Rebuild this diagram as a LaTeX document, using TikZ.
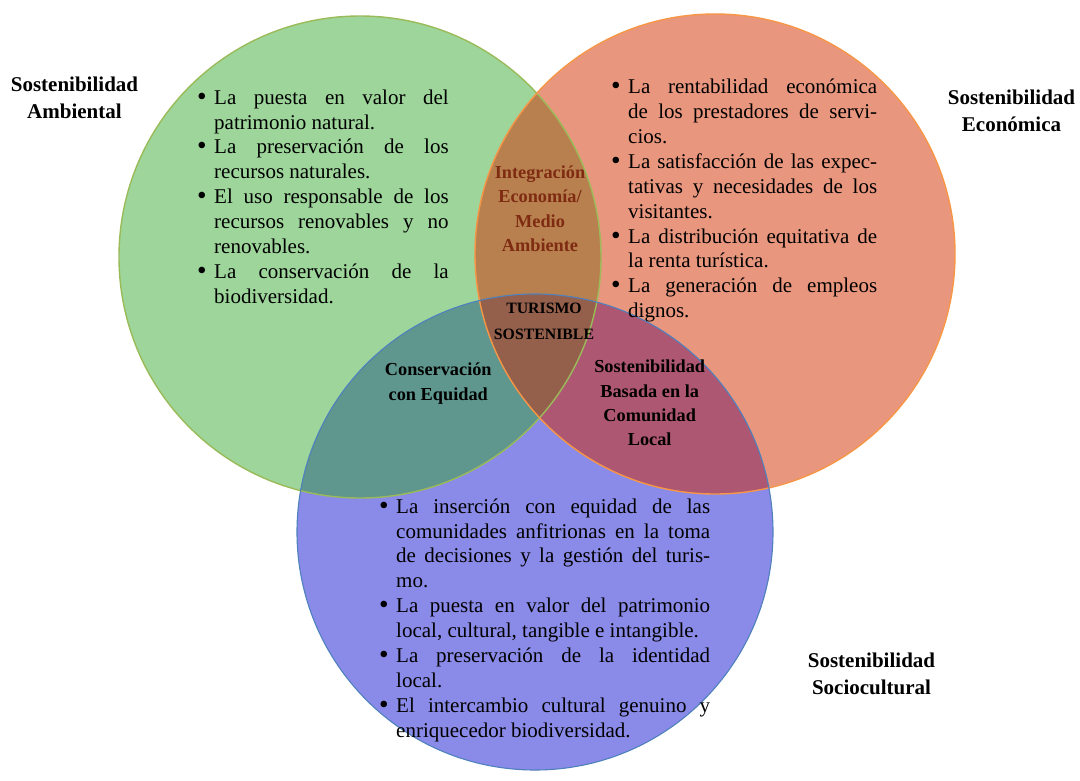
\documentclass[tikz,border=0pt]{standalone}
\usepackage{fontspec}
\setmainfont{Liberation Serif}
\definecolor{cG}{HTML}{9DD59B}
\definecolor{cO}{HTML}{E8967E}
\definecolor{cB}{HTML}{8A8AE8}
\definecolor{cGO}{HTML}{B8804F}
\definecolor{cGB}{HTML}{5F968E}
\definecolor{cOB}{HTML}{AE5772}
\definecolor{cGOB}{HTML}{945F4B}
\definecolor{lG}{HTML}{9BBB59}
\definecolor{lO}{HTML}{F79646}
\definecolor{lB}{HTML}{4F81BD}
\definecolor{darkred}{HTML}{7E2B12}
\newcommand\bitem[1]{\par\noindent\hangindent=17pt\hangafter=1\makebox[17pt][l]{\rule{0pt}{15pt}\raisebox{-1pt}{\scalebox{1.3}{\textbullet}}}#1\par}
\begin{document}
\begin{tikzpicture}[x=1pt,y=-1pt,
  title/.style={font=\bfseries\fontsize{21}{27}\selectfont, align=center, inner sep=0pt, anchor=north},
  lab/.style={font=\bfseries\fontsize{18.3}{24.3}\selectfont, align=center, inner sep=0pt, anchor=north},
  core/.style={font=\bfseries\fontsize{15.8}{25.6}\selectfont, align=center, inner sep=0pt, anchor=north},
  list/.style={font=\fontsize{21}{24.9}\selectfont, align=justify, inner sep=0pt, anchor=north west},
  ring/.style={line width=1.4pt}]
\useasboundingbox (0,0) rectangle (1080,780);
\fill[white] (0,0) rectangle (1080,780);
\coordinate (cg) at (360,257);
\coordinate (co) at (715,254);
\coordinate (cb) at (535,532);
% base fills
\fill[cG] (cg) circle[radius=241pt];
\fill[cO] (co) circle[radius=240pt];
\fill[cB] (cb) circle[radius=238pt];
% pairwise overlaps
\begin{scope}
  \clip (cg) circle[radius=241pt];
  \fill[cGO] (co) circle[radius=240pt];
  \fill[cGB] (cb) circle[radius=238pt];
\end{scope}
\begin{scope}
  \clip (co) circle[radius=240pt];
  \fill[cOB] (cb) circle[radius=238pt];
\end{scope}
\begin{scope}
  \clip (cg) circle[radius=241pt];
  \clip (co) circle[radius=240pt];
  \fill[cGOB] (cb) circle[radius=238pt];
\end{scope}
% outlines
\draw[ring, lG] (cg) circle[radius=241pt];
\draw[ring, lO] (co) circle[radius=240pt];
\draw[ring, lB, line width=1.1pt] (cb) circle[radius=238pt];

% titles
\node[title] (tA) at (74.5,73.7) {\rule{0pt}{18pt}Sostenibilidad\\Ambiental};
\node[title] (tE) at (1011.5,86) {\rule{0pt}{18pt}Sostenibilidad\\Económica};
\node[title] (tS) at (871.5,649.3) {\rule{0pt}{18pt}Sostenibilidad\\Sociocultural};

% lists
\node[list, text width=251.5pt] (lg) at (197,79) {%
\bitem{La puesta en valor del\linebreak patrimonio natural.}%
\bitem{La preservación de los\linebreak recursos naturales.}%
\bitem{El uso responsable de los\linebreak recursos renovables y no\linebreak renovables.}%
\bitem{La conservación de la\linebreak biodiversidad.}};

\node[list, text width=266pt] (lo) at (611,68.5) {%
\bitem{La rentabilidad económica\linebreak de los prestadores de servi-\linebreak cios.}%
\bitem{La satisfacción de las expec-\linebreak tativas y necesidades de los\linebreak visitantes.}%
\bitem{La distribución equitativa de\linebreak la renta turística.}%
\bitem{La generación de empleos\linebreak dignos.}};

\node[list, text width=331pt] (lb) at (379,488) {%
\bitem{La inserción con equidad de las\linebreak comunidades anfitrionas en la toma\linebreak de decisiones y la gestión del turis-\linebreak mo.}%
\bitem{La puesta en valor del patrimonio\linebreak local, cultural, tangible e intangible.}%
\bitem{La preservación de la identidad\linebreak local.}%
\bitem{El intercambio cultural genuino y\linebreak enriquecedor biodiversidad.}};

% intersection labels
\node[lab, text=darkred] (iGO) at (540,163.3) {\rule{0pt}{15pt}Integración\\Economía/\\Medio\\Ambiente};
\node[lab] (iGB) at (438.3,360.7) {\rule{0pt}{15pt}Conservación\\con Equidad};
\node[lab] (iOB) at (649.7,357.7) {\rule{0pt}{15pt}Sostenibilidad\\Basada en la\\Comunidad\\Local};
\node[core] (iC) at (544,300.5) {\rule{0pt}{13pt}TURISMO\\SOSTENIBLE};
\end{tikzpicture}
\end{document}
